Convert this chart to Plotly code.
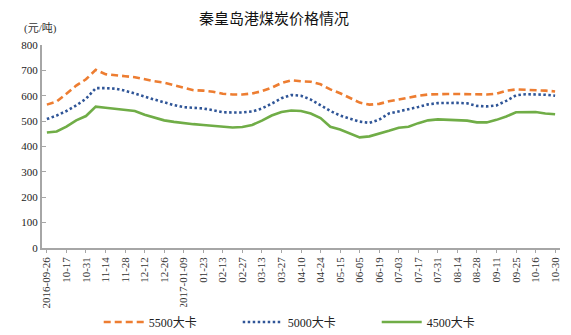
import plotly.graph_objects as go

# Weekly sample dates (category axis), every other one is labelled
dates = [
    "2016-09-26", "2016-10-10", "2016-10-17", "2016-10-24", "2016-10-31", "2016-11-07",
    "2016-11-14", "2016-11-21", "2016-11-28", "2016-12-05", "2016-12-12", "2016-12-19",
    "2016-12-26", "2017-01-03", "2017-01-09", "2017-01-16", "2017-01-23", "2017-02-06",
    "2017-02-13", "2017-02-20", "2017-02-27", "2017-03-06", "2017-03-13", "2017-03-20",
    "2017-03-27", "2017-04-05", "2017-04-10", "2017-04-17", "2017-04-24", "2017-05-08",
    "2017-05-15", "2017-05-22", "2017-06-05", "2017-06-12", "2017-06-19", "2017-06-26",
    "2017-07-03", "2017-07-10", "2017-07-17", "2017-07-24", "2017-07-31", "2017-08-07",
    "2017-08-14", "2017-08-21", "2017-08-28", "2017-09-04", "2017-09-11", "2017-09-18",
    "2017-09-25", "2017-10-09", "2017-10-16", "2017-10-23", "2017-10-30",
]

tick_labels = [
    "2016-09-26", "10-17", "10-31", "11-14", "11-28", "12-12", "12-26",
    "2017-01-09", "01-23", "02-13", "02-27", "03-13", "03-27", "04-10",
    "04-24", "05-15", "06-05", "06-19", "07-03", "07-17", "07-31",
    "08-14", "08-28", "09-11", "09-25", "10-16", "10-30",
]

# Prices (元/吨)
kcal5500 = [
    565, 577, 608, 640, 665, 702, 685, 680, 677, 673, 665, 657, 652, 643,
    632, 622, 620, 616, 608, 605, 605, 609, 618, 632, 650, 661, 657, 655,
    645, 625, 610, 590, 573, 565, 568, 578, 586, 592, 600, 605, 607, 607,
    607, 607, 606, 605, 608, 620, 625, 624, 622, 620, 617,
]
kcal5000 = [
    508, 522, 540, 562, 588, 630, 630, 628, 620, 610, 597, 585, 573, 563,
    555, 553, 550, 543, 535, 534, 534, 538, 550, 569, 590, 603, 600, 585,
    562, 540, 522, 510, 498, 493, 506, 530, 540, 547, 556, 566, 571, 572,
    572, 570, 560, 558, 562, 580, 602, 606, 606, 604, 600,
]
kcal4500 = [
    455, 459, 478, 503, 520, 557, 553, 549, 544, 540, 525, 515, 503, 497,
    491, 488, 485, 481, 477, 475, 477, 485, 502, 522, 536, 542, 540, 530,
    512, 478, 467, 450, 436, 440, 450, 462, 474, 478, 492, 503, 507, 505,
    504, 502, 495, 495, 505, 518, 535, 536, 536, 530, 527,
]

series = [
    ("5500大卡", kcal5500, "#ED7D31", "7px,4px"),
    ("5000大卡", kcal5000, "#2F5597", "2.5px,2.5px"),
    ("4500大卡", kcal4500, "#70AD47", "solid"),
]

fig = go.Figure()
for name, vals, color, dash in series:
    fig.add_trace(go.Scatter(
        x=dates, y=vals, name=name, mode="lines",
        line=dict(color=color, width=2.6, dash=dash),
    ))

fig.update_layout(
    width=571, height=335,
    margin=dict(l=42, r=11, t=45, b=87, autoexpand=False),
    paper_bgcolor="white", plot_bgcolor="white",
    showlegend=True,
    legend=dict(
        orientation="h", x=0.512, xanchor="center",
        yref="container", y=0.039, yanchor="middle",
        font=dict(family="Liberation Serif, Noto Sans CJK SC", size=12, color="#222"),
        entrywidth=84, entrywidthmode="pixels",
        itemwidth=40,
    ),
    annotations=[
        dict(text="秦皇岛港煤炭价格情况", xref="paper", yref="paper",
             x=0.447, y=1.0, yshift=28, xanchor="center", yanchor="middle",
             showarrow=False,
             font=dict(family="Noto Sans CJK SC", size=15, color="#111")),
        dict(text="(元/吨)", xref="paper", yref="paper",
             x=0, xshift=-20, y=1.0, yshift=17, xanchor="left", yanchor="middle",
             showarrow=False,
             font=dict(family="Liberation Serif, Noto Sans CJK SC", size=11, color="#333")),
    ],
)

fig.update_xaxes(
    type="category",
    categoryorder="array", categoryarray=dates,
    range=[-0.5, len(dates) - 0.5],
    tickmode="array", tickvals=dates[::2], ticktext=tick_labels,
    tickangle=-90,
    tickfont=dict(family="Liberation Serif", size=11, color="#333"),
    showline=True, linecolor="#A6A6A6", linewidth=1.5,
    ticks="outside", ticklen=3, tickcolor="#A6A6A6",
    showgrid=False, zeroline=False,
)
fig.update_yaxes(
    range=[0, 800], dtick=100,
    tickfont=dict(family="Liberation Serif", size=11, color="#222"),
    showline=True, linecolor="#A6A6A6", linewidth=2,
    ticks="inside", ticklen=4, tickcolor="#A6A6A6",
    showgrid=False, zeroline=False,
)

fig.write_html("out.html")
